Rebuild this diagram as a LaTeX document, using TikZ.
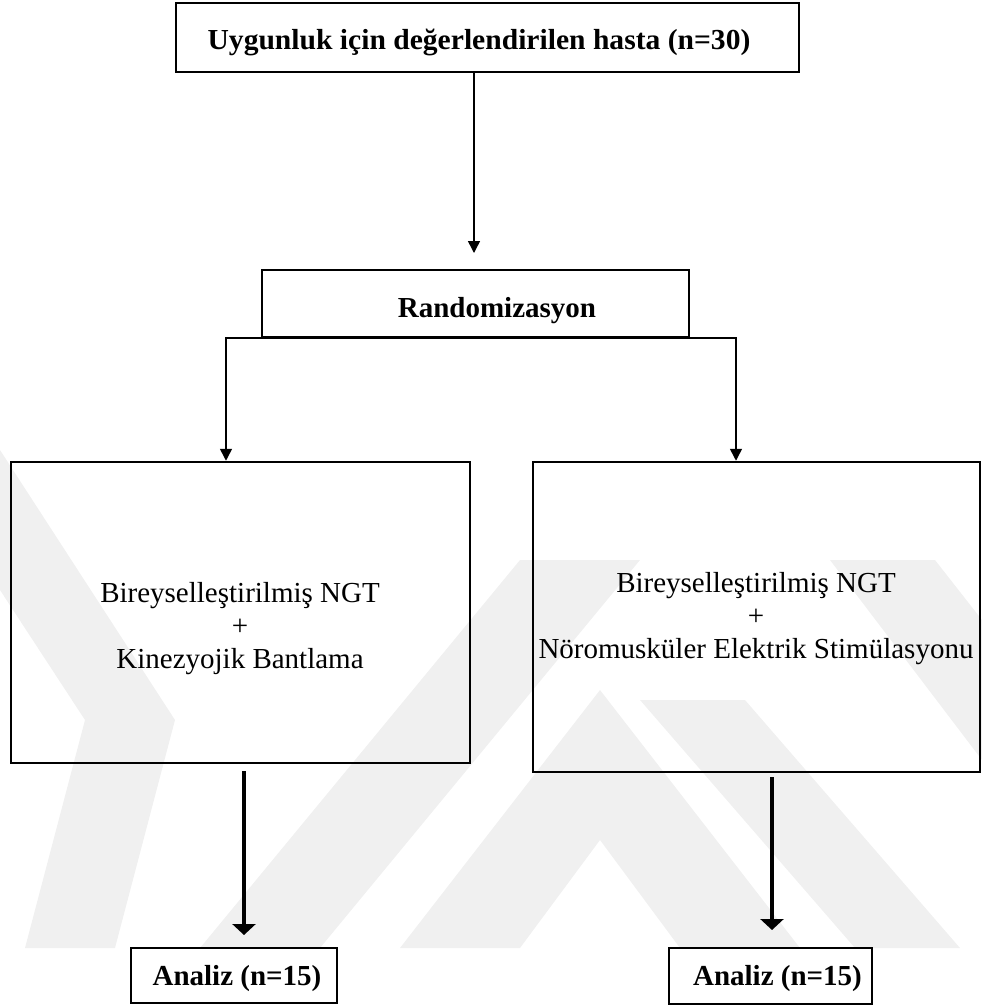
\documentclass[tikz,border=0pt]{standalone}
\usepackage{fontspec}
\setmainfont{Liberation Serif}
\usetikzlibrary{arrows.meta}
\begin{document}
\begin{tikzpicture}[x=1pt,y=-1pt,
  box/.style={draw=black,rectangle,inner sep=0pt,line width=#1},
  box/.default=2pt,
  txt/.style={inner sep=0pt,anchor=base,font=\fontsize{29}{33}\selectfont},
  btxt/.style={txt,font=\fontsize{29}{33}\selectfont\bfseries},
  thinarr/.style={line width=1.5pt,-{Triangle[width=12pt,length=12pt]}},
  thickarr/.style={line width=4.5pt,-{Triangle[width=23pt,length=11pt]}},
  wm/.style={fill=black!6,draw=none}]
\useasboundingbox (0,0) rectangle (982,1007);
% watermark (faint)
\fill[wm] (0,450) -- (175,720) -- (115,948) -- (25,948) -- (85,720) -- (0,590) -- cycle;
\fill[wm] (200,948) -- (320,948) -- (640,560) -- (520,560) -- cycle;
\fill[wm] (400,948) -- (520,948) -- (600,840) -- (680,948) -- (800,948) -- (600,690) -- cycle;
\fill[wm] (640,700) -- (745,700) -- (960,948) -- (855,948) -- cycle;
\fill[wm] (830,560) -- (935,560) -- (982,620) -- (982,760) -- cycle;
% boxes
\node[box=2pt,minimum width=623pt,minimum height=69pt] (top) at (487.5,37.5) {};
\node[btxt,xscale=1.02] (toptxt) at (479,49) {Uygunluk için değerlendirilen hasta (n=30)};
\node[box=1.5pt,minimum width=427pt,minimum height=67pt] (rand) at (475.5,303.5) {};
\node[btxt] (randtxt) at (497,317) {Randomizasyon};
\node[box=2.5pt,minimum width=459pt,minimum height=301pt] (left) at (240.5,612.5) {};
\node[txt] (l1) at (240,602) {Bireyselleştirilmiş NGT};
\node[txt] (l2) at (240,635) {+};
\node[txt] (l3) at (240,668) {Kinezyojik Bantlama};
\node[box=2.5pt,minimum width=447pt,minimum height=310pt] (right) at (756.5,617) {};
\node[txt] (r1) at (756,592) {Bireyselleştirilmiş NGT};
\node[txt] (r2) at (756,625) {+};
\node[txt] (r3) at (756,658) {Nöromusküler Elektrik Stimülasyonu};
\node[box=2pt,minimum width=206pt,minimum height=55pt] (anl) at (234,975.5) {};
\node[btxt] (anltxt) at (237,985) {Analiz (n=15)};
\node[box=2pt,minimum width=203pt,minimum height=56pt] (anr) at (770.5,976) {};
\node[btxt] (anrtxt) at (777.5,985) {Analiz (n=15)};
% connectors
\coordinate (a1) at (474,253);
\draw[thinarr] (top.south -| a1) -- (a1);
\coordinate (bl) at (226,337);
\coordinate (br) at (736,337);
\draw[thinarr] (rand.south) -| (left.north -| bl);
\draw[thinarr] (rand.south) -| (right.north -| br);
\coordinate (tl) at (244,771);
\coordinate (tle) at (244,935);
\coordinate (tr) at (772,777);
\coordinate (tre) at (772,930);
\draw[thickarr] (tl) -- (tle);
\draw[thickarr] (tr) -- (tre);
\end{tikzpicture}
\end{document}
